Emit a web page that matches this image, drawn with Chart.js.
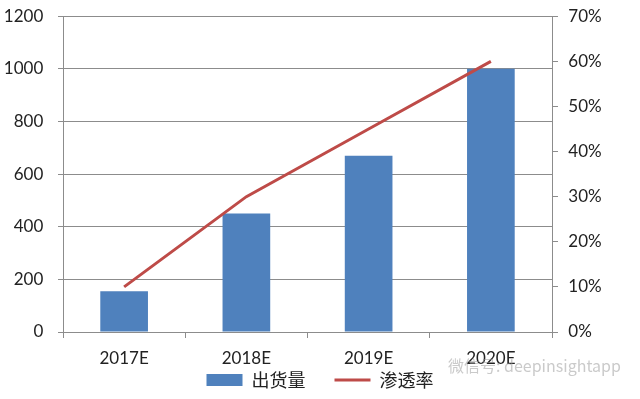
<!DOCTYPE html>
<html lang="zh">
<head>
  <meta charset="UTF-8">
  <title>出货量与渗透率</title>
  <script src="https://cdn.jsdelivr.net/npm/chart.js@4/dist/chart.umd.min.js"></script>
  <style>
    html, body { margin: 0; padding: 0; background: #fff; }
    #wrap { width: 640px; height: 399px; }
  </style>
</head>
<body>
<div id="wrap"><canvas id="chart"></canvas></div>
<script>
  // data
  const years = ['2017E', '2018E', '2019E', '2020E'];
  const shipments = [155, 450, 670, 1000];     // 出货量
  const penetration = [0.10, 0.30, 0.45, 0.60]; // 渗透率
  const leftTicks = [0, 200, 400, 600, 800, 1000, 1200];
  const rightTicks = [0, 0.1, 0.2, 0.3, 0.4, 0.5, 0.6, 0.7];

  const grey = '#8c8c8c';
  const tickFont = { family: 'Lato, "Liberation Sans", sans-serif', size: 17 };

  // faint watermark text at the bottom right
  const watermark = {
    id: 'watermark',
    afterDraw(chart) {
      const ctx = chart.ctx;
      ctx.save();
      ctx.font = '16px "Noto Sans CJK SC", sans-serif';
      ctx.fillStyle = 'rgba(150,150,150,0.5)';
      ctx.textBaseline = 'middle';
      ctx.fillText('微信号: deepinsightapp', 448, 366);
      ctx.restore();
    }
  };

  new Chart(document.getElementById('chart'), {
    type: 'bar',
    data: {
      labels: years,
      datasets: [
        {
          type: 'line',
          label: '渗透率',
          data: penetration,
          yAxisID: 'y1',
          borderColor: '#be4b48',
          backgroundColor: '#be4b48',
          borderWidth: 3,
          pointRadius: 0,
          pointStyle: 'line',
          tension: 0,
          order: 0
        },
        {
          label: '出货量\u3000\u2002',
          data: shipments,
          yAxisID: 'y',
          backgroundColor: '#4f81bd',
          borderWidth: 0,
          barPercentage: 0.39,
          categoryPercentage: 1,
          pointStyle: 'rect',
          order: 1
        }
      ]
    },
    options: {
      responsive: true,
      maintainAspectRatio: false,
      animation: false,
      layout: { padding: 0 },
      plugins: {
        tooltip: { enabled: false },
        legend: {
          position: 'bottom',
          reverse: true,
          labels: {
            usePointStyle: true,
            pointStyleWidth: 36,
            boxHeight: 12,
            padding: 2,
            color: '#222',
            font: { family: '"Noto Sans CJK SC", sans-serif', size: 18 }
          }
        }
      },
      scales: {
        x: {
          offset: true,
          grid: { offset: true, drawOnChartArea: false, drawTicks: true, tickLength: 6, color: grey },
          border: { display: true, color: grey },
          ticks: { color: '#222', font: tickFont, padding: 10, autoSkip: false, maxRotation: 0 },
          afterFit(scale) { scale.height = 37; }
        },
        y: {
          position: 'left',
          min: 0,
          max: 1200,
          afterBuildTicks(scale) { scale.ticks = leftTicks.map(v => ({ value: v })); },
          grid: { color: grey, tickLength: 5 },
          border: { display: true, color: grey },
          ticks: { color: '#222', font: tickFont, padding: 6, callback: v => v + '  ' },
          afterFit(scale) { scale.width = 63; }
        },
        y1: {
          position: 'right',
          min: 0,
          max: 0.7,
          afterBuildTicks(scale) { scale.ticks = rightTicks.map(v => ({ value: v })); },
          grid: { drawOnChartArea: false, color: grey, tickLength: 6 },
          border: { display: true, color: grey },
          ticks: {
            color: '#222',
            font: tickFont,
            padding: 6,
            callback: v => ' ' + Math.round(v * 100) + '%'
          },
          afterFit(scale) { scale.width = 88; }
        }
      }
    },
    plugins: [watermark]
  });
</script>
</body>
</html>
